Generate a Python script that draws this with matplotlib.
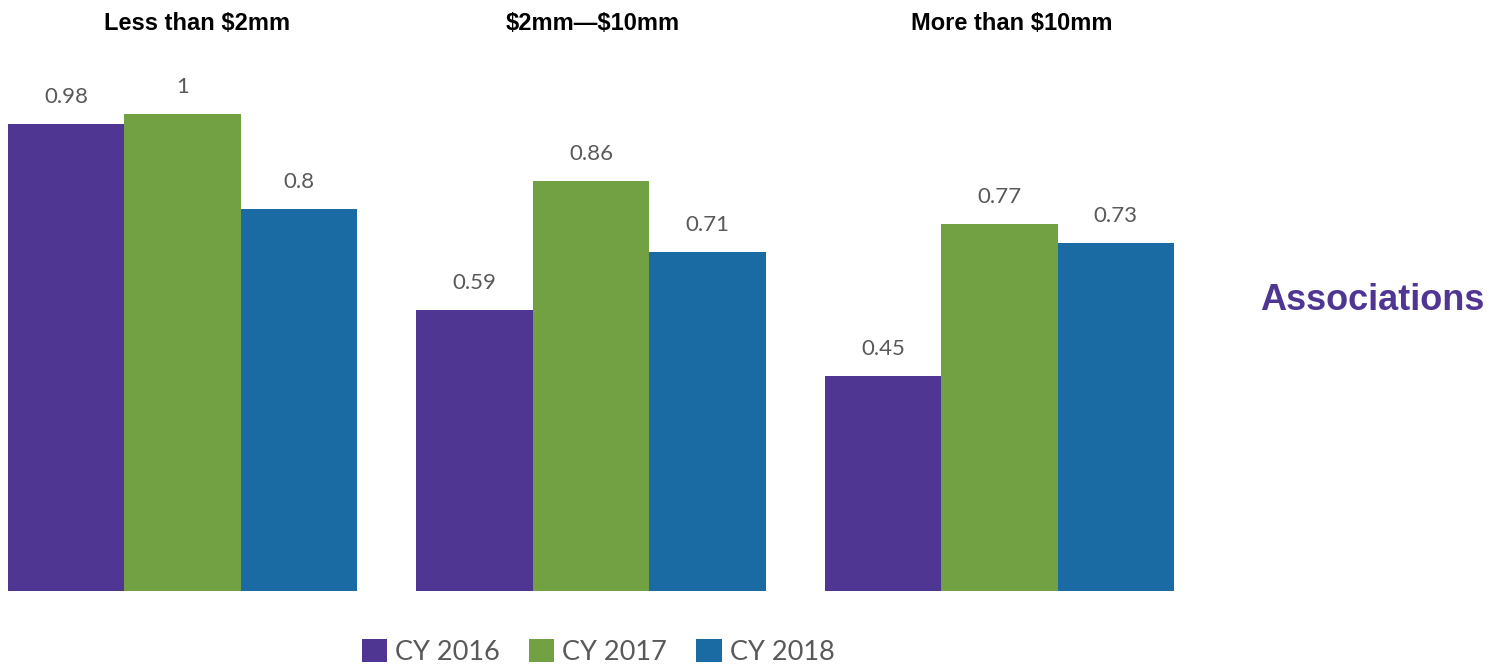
import matplotlib
matplotlib.use("Agg")
import matplotlib.pyplot as plt
from matplotlib.patches import Patch

plt.rcParams["text.parse_math"] = False

categories = ["Less than $2mm", "$2mm\u2014$10mm", "More than $10mm"]
series = ["CY 2016", "CY 2017", "CY 2018"]
cy2016 = [0.98, 0.59, 0.45]
cy2017 = [1.0, 0.86, 0.77]
cy2018 = [0.80, 0.71, 0.73]
labels2016 = ["0.98", "0.59", "0.45"]
labels2017 = ["1", "0.86", "0.77"]
labels2018 = ["0.8", "0.71", "0.73"]
colors = ["#4f3693", "#71a142", "#1a6aa3"]

W, H = 1504, 669
fig = plt.figure(figsize=(W / 100, H / 100), dpi=100)
fig.patch.set_facecolor("white")

base_px = 591
top_val_px = 591 - 1.1 * 477
ax = fig.add_axes([8 / W, (H - base_px) / H, (1174 - 8) / W, (base_px - top_val_px) / H])
group_step = 3.51
bw = 1.0
ax.set_xlim(-1.5, 2 * group_step + 1.5)
ax.set_ylim(0, 1.1)
ax.axis("off")

value_sets = [cy2016, cy2017, cy2018]
label_sets = [labels2016, labels2017, labels2018]
for si, (vals, labs) in enumerate(zip(value_sets, label_sets)):
    xs = [gi * group_step + (si - 1) * bw for gi in range(len(categories))]
    ax.bar(xs, vals, width=bw, color=colors[si], edgecolor="none", linewidth=0)
    for x, v, lab in zip(xs, vals, labs):
        ax.annotate(lab, (x, v), xytext=(0, 27), textcoords="offset pixels",
                    ha="center", va="center", fontsize=16, color="#595959",
                    family="Lato")

title_x = [197, 593, 1012]
for cx, cat in zip(title_x, categories):
    fig.text(cx / W, 1 - 23 / H, cat, ha="center", va="center", fontsize=17,
             fontweight="bold", color="black", family="Liberation Sans")

fig.text(1372 / W, 1 - 300 / H, "Associations", ha="center", va="center",
         fontsize=26, fontweight="bold", color="#4f3693", family="Liberation Sans")

handles = [Patch(facecolor=c, edgecolor="none") for c in colors]
fig.legend(handles, series, loc="center", bbox_to_anchor=(598 / W, 1 - 652 / H),
           ncol=3, frameon=False, prop={"family": "Lato", "size": 19.5},
           labelcolor="#595959", handlelength=0.95, handleheight=0.95,
           handletextpad=0.3, columnspacing=1.05, borderpad=0)

fig.savefig("out.png", dpi=100, facecolor="white")
